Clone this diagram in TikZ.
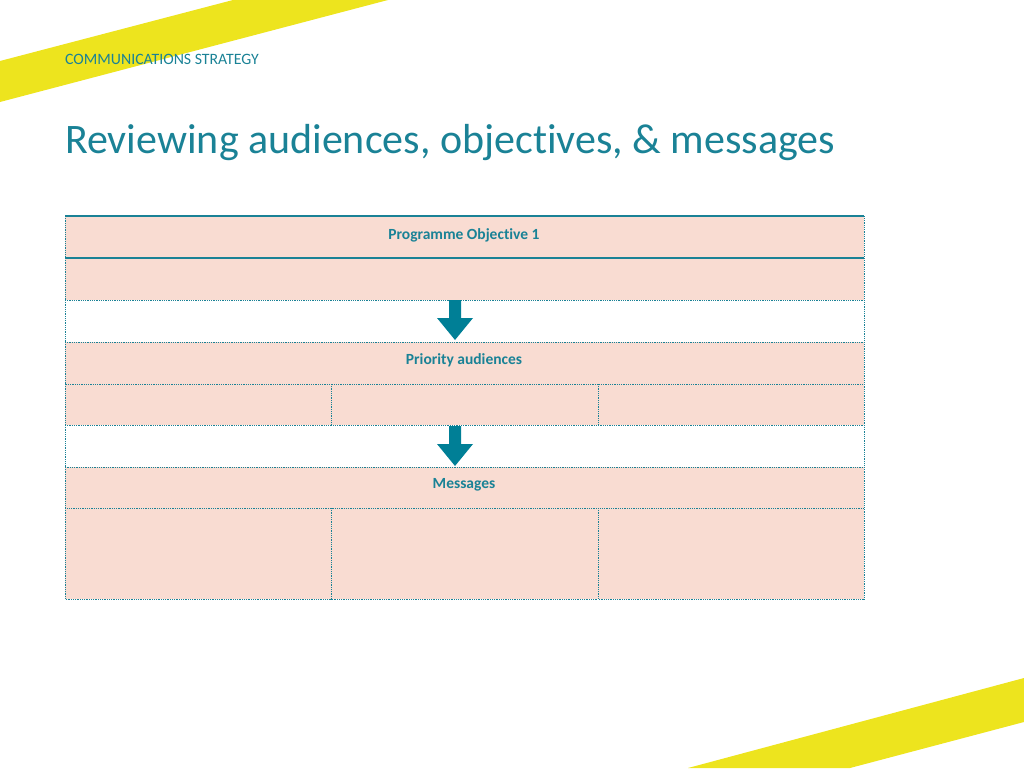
\documentclass[tikz,border=0pt]{standalone}
\usepackage{fontspec}
\setmainfont{Carlito}[RawFeature={-liga;-dlig}]
\definecolor{teal1}{HTML}{1A8296}
\definecolor{peach}{HTML}{F9DCD2}
\definecolor{yel}{HTML}{EDE41E}
\definecolor{arr}{HTML}{007F96}
\begin{document}
\begin{tikzpicture}[x=1pt,y=-1pt,
  cellbox/.style={fill=peach,draw=teal1,densely dotted,line width=0.8pt},
  whitebox/.style={fill=white,draw=teal1,densely dotted,line width=0.8pt},
  lab/.style={font=\bfseries\fontsize{15.5}{18}\selectfont,text=teal1},
  downarrow/.style={fill=arr}]
\useasboundingbox (0,0) rectangle (1024,768);
\fill[yel] (0,61) -- (233,0) -- (388,0) -- (0,102) -- cycle;
\fill[yel] (688,768) -- (1024,678) -- (1024,722) -- (850,768) -- cycle;
\node[anchor=west,inner sep=0pt,text=teal1,font=\fontsize{15.8}{18}\selectfont] (hdr) at (65,59) {COMMUNICATIONS STRATEGY};
\node[anchor=west,inner sep=0pt,text=teal1,font=\fontsize{42}{50}\selectfont] (title) at (65,143) {Reviewing audiences, objectives, \& messages};
% rows
\draw[cellbox] (65,216) rectangle (864,258);
\draw[cellbox] (65,258) rectangle (864,300);
\draw[whitebox] (65,300) rectangle (864,342);
\draw[cellbox] (65,342) rectangle (864,384);
\draw[cellbox] (65,384) rectangle (331,425);
\draw[cellbox] (331,384) rectangle (598,425);
\draw[cellbox] (598,384) rectangle (864,425);
\draw[whitebox] (65,425) rectangle (864,467);
\draw[cellbox] (65,467) rectangle (864,508);
\draw[cellbox] (65,508) rectangle (331,599);
\draw[cellbox] (331,508) rectangle (598,599);
\draw[cellbox] (598,508) rectangle (864,599);
\draw[teal1,line width=1.6pt] (65,216) -- (864,216);
\draw[teal1,line width=1.6pt] (65,258) -- (864,258);
\node[lab] (l1) at (464,235) {Programme Objective 1};
\node[lab] (l2) at (464,360) {Priority audiences};
\node[lab] (l3) at (464,485) {Messages};
\fill[downarrow] (449,300) -- (461,300) -- (461,318) -- (473,318) -- (455,340) -- (437,318) -- (449,318) -- cycle;
\fill[downarrow] (449,426) -- (461,426) -- (461,444) -- (473,444) -- (455,466) -- (437,444) -- (449,444) -- cycle;
\end{tikzpicture}
\end{document}
